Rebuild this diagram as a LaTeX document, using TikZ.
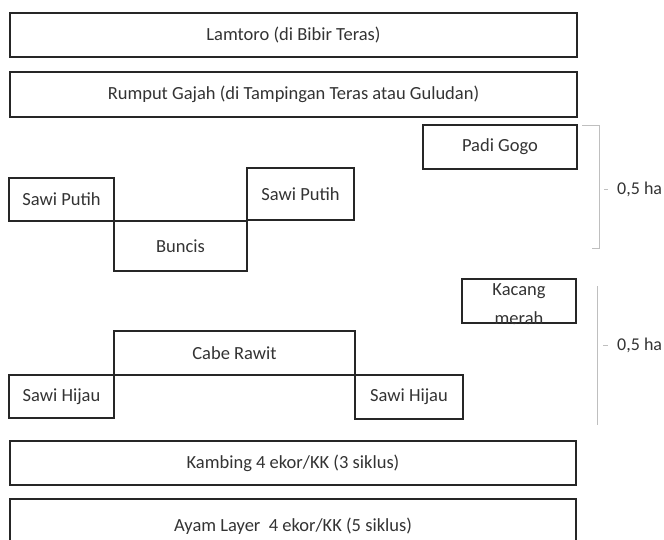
\documentclass[tikz,border=0pt]{standalone}
\usepackage{fontspec}
\setmainfont{Carlito}
\begin{document}
\begin{tikzpicture}[x=1pt,y=-1pt,
  cropbox/.style={draw=black!85, line width=1.4pt, inner sep=0pt, text=black!80,
    font=\fontsize{18.5}{22}\selectfont},
  halabel/.style={text=black!80, font=\fontsize{18}{22}\selectfont, anchor=west, inner sep=0pt},
  bracketline/.style={draw=black!25, line width=0.8pt}]
\useasboundingbox (0,0) rectangle (664,539);
\clip (0,0) rectangle (664,539);
% full width rows
\node[cropbox, minimum width=567pt, minimum height=44pt] (lamtoro) at (293.5,35) {Lamtoro (di Bibir Teras)};
\node[cropbox, minimum width=567pt, minimum height=45pt] (rumput) at (293.5,94.5) {Rumput Gajah (di Tampingan Teras atau Guludan)};
\node[cropbox, minimum width=154pt, minimum height=44pt] (padi) at (500,147) {Padi Gogo};
% first 0.5 ha
\node[cropbox, minimum width=105pt, minimum height=43pt] (sp1) at (61.5,199.5) {Sawi Putih};
\node[cropbox, minimum width=133pt, minimum height=50pt] (buncis) at (180.5,246) {Buncis};
\node[cropbox, minimum width=107pt, minimum height=52pt] (sp2) at (300.5,194) {Sawi Putih};
% kacang merah
\node[cropbox, minimum width=114pt, minimum height=44pt] (kacang) at (519,301) {};
\node[text=black!80, font=\fontsize{18.5}{29}\selectfont, align=center, inner sep=0pt] (kacangtext) at (519,304) {Kacang\\merah};
% second 0.5 ha
\node[cropbox, minimum width=241pt, minimum height=44pt] (cabe) at (234.5,353) {Cabe Rawit};
\node[cropbox, minimum width=105pt, minimum height=43pt] (sh1) at (61.5,396.5) {Sawi Hijau};
\node[cropbox, minimum width=108pt, minimum height=44pt] (sh2) at (409,397) {Sawi Hijau};
% livestock
\node[cropbox, minimum width=566pt, minimum height=44pt] (kambing) at (293,463) {Kambing 4 ekor/KK (3 siklus)};
\node[cropbox, minimum width=566pt, minimum height=54pt] (ayam) at (293,526) {Ayam Layer\ \ 4 ekor/KK (5 siklus)};
% brackets
\coordinate (b1t) at (599,125);
\coordinate (b1b) at (599,248);
\draw[bracketline] (582,125) -- (b1t) -- (b1b) -- (592,248);
\draw[bracketline] (604,189) -- (608,189);
\node[halabel] (ha1) at (617,189) {0,5 ha};
\coordinate (b2t) at (597,286);
\coordinate (b2b) at (597,425);
\draw[bracketline] (b2t) -- (b2b);
\draw[bracketline] (603,345) -- (608,345);
\node[halabel] (ha2) at (617,345) {0,5 ha};
\end{tikzpicture}
\end{document}
